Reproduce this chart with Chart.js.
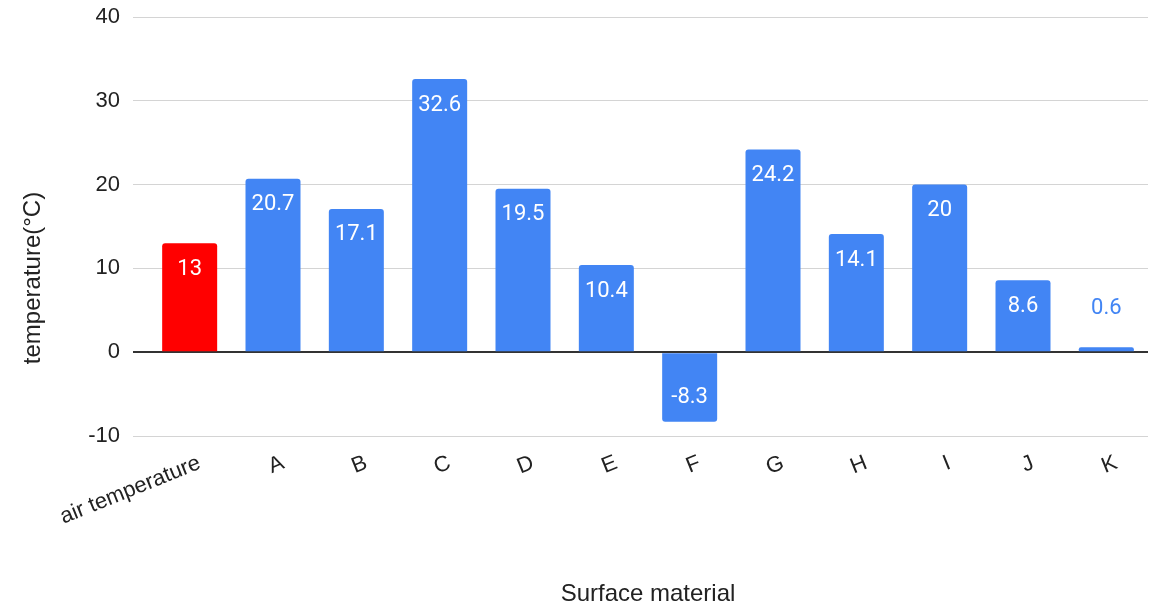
<!DOCTYPE html>
<html>
<head>
<meta charset="utf-8">
<script src="https://cdn.jsdelivr.net/npm/chart.js@4/dist/chart.umd.min.js"></script>
<style>
  html, body { margin: 0; padding: 0; background: #fff; }
  canvas { display: block; }
</style>
</head>
<body>
<canvas id="chart" width="1151" height="609"></canvas>
<script>
// surface temperature by material, compared with the air temperature
var materials = ['air temperature', 'A', 'B', 'C', 'D', 'E', 'F', 'G', 'H', 'I', 'J', 'K'];
var temperatures = [13, 20.7, 17.1, 32.6, 19.5, 10.4, -8.3, 24.2, 14.1, 20, 8.6, 0.6];
var yTicks = [-10, 0, 10, 20, 30, 40];

var BLUE = '#4285f4';
var RED = '#ff0000';
var AXIS_FONT = '"Liberation Sans", Arial, sans-serif';
var barColors = temperatures.map(function (v, i) { return i == 0 ? RED : BLUE; });

// value labels: white inside tall bars, blue above short ones
var barLabels = {
    id: 'barLabels',
    afterDatasetsDraw: function (chart) {
        var ctx = chart.ctx;
        var meta = chart.getDatasetMeta(0);
        ctx.save();
        ctx.font = '22px Roboto';
        ctx.textAlign = 'center';
        ctx.textBaseline = 'middle';
        meta.data.forEach(function (bar, i) {
            var v = temperatures[i];
            var h = Math.abs(bar.base - bar.y);
            var y;
            if (h > 35) {
                ctx.fillStyle = '#ffffff';
                y = v >= 0 ? bar.y + 26 : bar.y - 24;
            } else {
                ctx.fillStyle = BLUE;
                y = bar.y - 39;
            }
            ctx.fillText(String(v), bar.x, y);
        });
        ctx.restore();
    }
};

// vertical axis title
var yTitle = {
    id: 'yTitle',
    afterDraw: function (chart) {
        var ctx = chart.ctx;
        ctx.save();
        ctx.translate(33, 278);
        ctx.rotate(-Math.PI / 2);
        ctx.font = '24px ' + AXIS_FONT;
        ctx.fillStyle = '#222';
        ctx.textAlign = 'center';
        ctx.textBaseline = 'middle';
        ctx.fillText('temperature(°C)', 0, 0);
        ctx.restore();
    }
};

new Chart(document.getElementById('chart').getContext('2d'), {
    type: 'bar',
    data: {
        labels: materials,
        datasets: [{
            data: temperatures,
            backgroundColor: barColors,
            borderRadius: 3,
            borderSkipped: 'start',
            barPercentage: 0.66,
            categoryPercentage: 1
        }]
    },
    options: {
        responsive: false,
        animation: false,
        layout: { autoPadding: false, padding: { top: 17, right: 3, left: 0, bottom: 0 } },
        plugins: {
            legend: { display: false },
            tooltip: { enabled: false }
        },
        scales: {
            x: {
                grid: { display: false },
                border: { display: false },
                ticks: {
                    color: '#222',
                    font: { family: AXIS_FONT, size: 22 },
                    minRotation: 22,
                    maxRotation: 22,
                    labelOffset: 10,
                    padding: 6
                },
                title: {
                    display: true,
                    text: 'Surface material',
                    color: '#222',
                    font: { family: AXIS_FONT, size: 24 },
                    padding: { top: 10, bottom: 0 }
                },
                afterFit: function (scale) { scale.height = 173; }
            },
            y: {
                min: -10,
                max: 40,
                afterBuildTicks: function (scale) {
                    scale.ticks = yTicks.map(function (v) { return { value: v }; });
                },
                border: { display: false },
                grid: {
                    color: function (c) { return c.tick && c.tick.value === 0 ? '#333' : '#d4d4d4'; },
                    lineWidth: function (c) { return c.tick && c.tick.value === 0 ? 2 : 1; },
                    tickLength: 15,
                    z: 0
                },
                ticks: {
                    color: '#222',
                    font: { family: AXIS_FONT, size: 22 },
                    padding: 13
                },
                afterFit: function (scale) {
                    scale.width = 148;
                    scale.paddingTop = 0;
                    scale.paddingBottom = 0;
                }
            }
        }
    },
    plugins: [barLabels, yTitle]
});
</script>
</body>
</html>
